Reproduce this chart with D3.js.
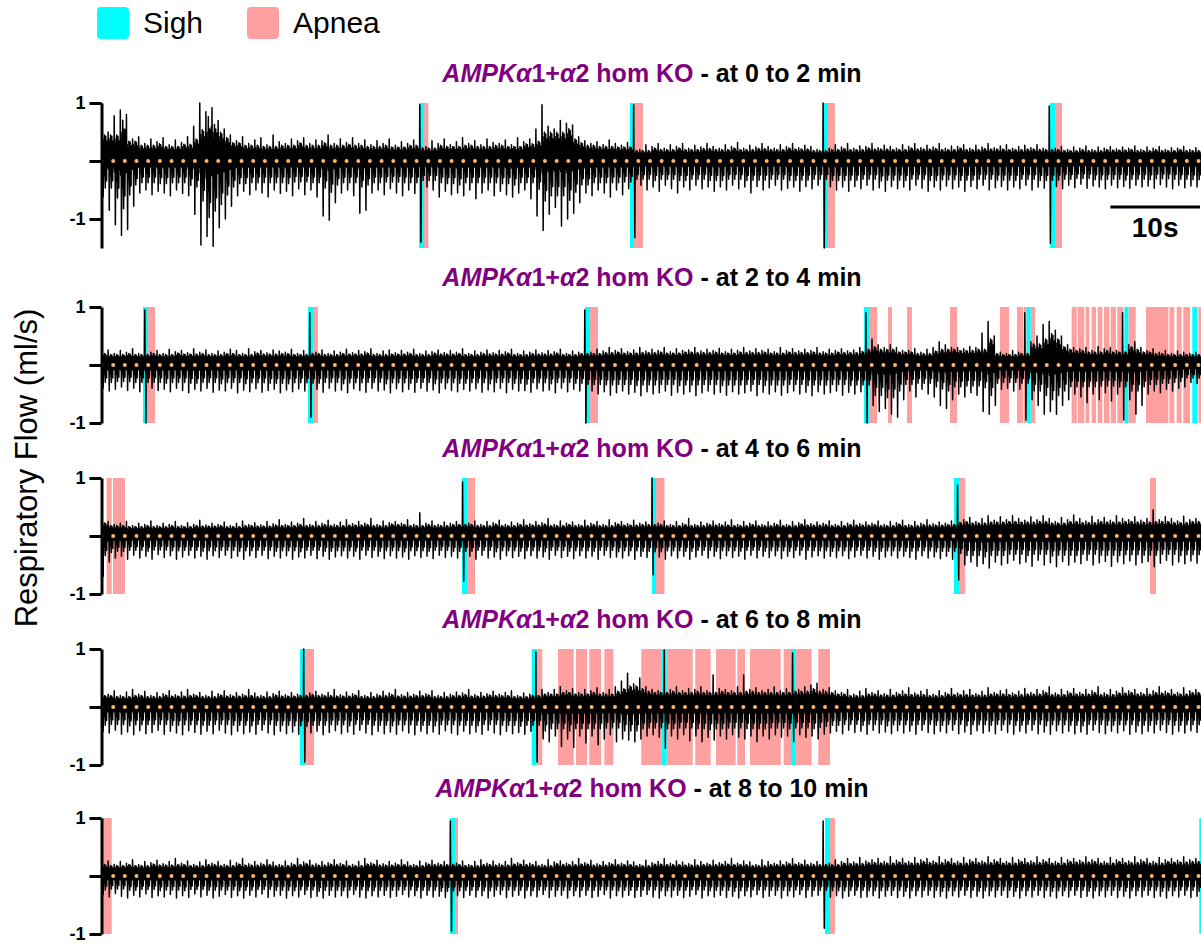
<!DOCTYPE html>
<html><head><meta charset="utf-8">
<script src="https://cdn.jsdelivr.net/npm/d3@7"></script>
<style>
html,body{margin:0;padding:0;background:#fff;}
svg{display:block;font-family:"Liberation Sans",Arial,Helvetica,sans-serif;}
</style></head>
<body><svg id="chart" width="1201" height="943"></svg>
<script>
// ---------- DATA ----------
const genotypeItalic = "AMPK";
const windows = ["at 0 to 2 min","at 2 to 4 min","at 4 to 6 min","at 6 to 8 min","at 8 to 10 min"];
const yLabel = "Respiratory Flow (ml/s)";
const legendLabels = ["Sigh","Apnea"];
const yTickValues = [1,0,-1];
const yTickLabels = ["1","","-1"];
const yDomains = [[-1.5,1],[-1,1],[-1,1],[-1,1],[-1,1]];
const windowSeconds = 120;
const breathInterval = 2/3;   // s between successive breaths
const scaleBarSeconds = 10;

// sigh / apnea events, [start, end] in seconds within each 2-min window
const sighs1 = [[34.58,35.13],[57.60,58.04],[78.65,79.20],[103.42,103.96]];
const apneas1 = [[35.13,35.60],[58.04,59.02],[79.20,79.96],[103.96,104.73]];
const sighs2 = [[4.47,5.02],[22.47,23.02],[52.69,53.24],[83.13,83.67],[100.87,101.31],[111.53,111.96],[118.94,119.49]];
const apneas2 = [[5.02,5.78],[23.02,23.56],[53.24,54.11],[83.67,84.55],[85.75,86.18],[87.82,88.36],[92.51,93.27],
  [97.96,98.95],[99.82,100.47],[100.55,100.87],[101.31,101.78],[105.78,106.33],[106.44,107.16],[107.31,107.71],
  [107.96,108.44],[108.62,109.13],[109.31,109.89],[110.04,110.62],[110.76,111.42],[111.96,112.77],[113.89,116.33],
  [116.44,116.98],[117.24,117.78],[117.96,118.69],[119.60,119.95]];
const sighs3 = [[39.27,39.82],[60.00,60.44],[92.95,93.49]];
const apneas3 = [[0.51,1.06],[1.20,2.51],[39.82,40.69],[60.44,61.36],[93.49,94.15],[114.33,114.98]];
const sighs4 = [[21.60,22.15],[46.87,47.42],[61.01,61.60],[75.16,75.60]];
const apneas4 = [[22.15,23.13],[47.42,48.03],[49.75,51.46],[51.71,52.91],[53.16,54.44],[54.80,55.78],[58.83,61.01],
  [61.60,64.44],[64.72,66.40],[66.98,69.12],[69.30,70.15],[70.69,74.04],[74.36,75.16],[75.60,77.42],[78.14,79.42]];
const sighs5 = [[0.00,0.07],[37.96,38.51],[78.87,79.42],[119.70,120]];
const apneas5 = [[0.07,1.06],[38.51,38.84],[79.42,79.96]];

// respiratory flow (ml/s) per breath: inspiratory peak, expiratory trough, peak, trough, ...
const flow1 = [
1.0,-.62,.5,-.85,.78,-1.1,.88,-1.28,.8,-1.18,.38,-.78,.42,-.55,.3,-.5,.38,-.58,.33,-.52,
.4,-.55,.28,-.6,.36,-.5,.32,-.56,.42,-.6,.6,-.92,1.0,-1.45,.85,-1.3,.92,-1.47,.7,-1.15,
.55,-1.0,.45,-.78,.35,-.6,.42,-.52,.3,-.58,.36,-.5,.4,-.55,.28,-.62,.45,-.5,.33,-.56,
.3,-.52,.38,-.6,.35,-.48,.4,-.58,.3,-.5,.36,-.62,.35,-.95,.45,-1.02,.3,-.72,.38,-.55,
.32,-.5,.4,-.6,.3,-.9,.36,-.85,.28,-.55,.35,-.5,.3,-.58,.38,-.48,.27,-.55,.33,-.6,
.3,-.5,.36,-.56,.97,-1.4,.25,-.45,.35,-.5,.3,-.62,.38,-.52,.28,-.58,.33,-.55,.4,-.6,
.3,-.5,.35,-.65,.28,-.55,.38,-.5,.32,-.6,.3,-.52,.36,-.58,.28,-.62,.4,-.55,.33,-.5,
.38,-.65,.55,-.95,.97,-1.2,.6,-.92,.55,-.8,.7,-1.12,.65,-1.0,.62,-.9,.42,-.72,.35,-.55,
.3,-.6,.33,-.5,.28,-.55,.36,-.62,.3,-.5,.27,-.58,.32,-.48,.97,-1.32,.2,-.42,.28,-.5,
.25,-.45,.3,-.52,.22,-.42,.28,-.48,.25,-.55,.3,-.45,.22,-.5,.27,-.42,.24,-.48,.3,-.45,
.25,-.52,.22,-.45,.28,-.5,.25,-.42,.32,-.48,.22,-.45,.27,-.55,.24,-.44,.3,-.5,.25,-.46,
.22,-.42,.28,-.5,.25,-.47,.3,-.45,.23,-.52,.27,-.44,.25,-.48,.2,-.42,1.0,-1.5,.22,-.45,
.28,-.5,.24,-.45,.3,-.52,.22,-.44,.26,-.48,.25,-.42,.3,-.5,.23,-.46,.27,-.52,.25,-.44,
.22,-.48,.28,-.45,.25,-.5,.3,-.42,.23,-.47,.27,-.52,.24,-.45,.3,-.5,.22,-.43,.26,-.48,
.25,-.45,.28,-.52,.22,-.44,.27,-.48,.24,-.42,.3,-.5,.23,-.46,.26,-.44,.28,-.5,.22,-.45,
.25,-.48,.27,-.42,.23,-.5,.28,-.45,.22,-.47,.95,-1.42,.22,-.44,.25,-.48,.2,-.42,.24,-.46,
.22,-.4,.26,-.47,.2,-.43,.24,-.45,.22,-.48,.25,-.42,.21,-.46,.24,-.44,.22,-.47,.26,-.42,
.2,-.45,.24,-.43,.22,-.47,.25,-.41,.2,-.45,.23,-.48,.22,-.42,.25,-.46,.2,-.43,.23,-.45];
const flow2 = [
.22,-.4,.26,-.45,.2,-.42,.25,-.38,.22,-.44,.28,-.4,.2,-.46,.95,-1.0,.22,-.4,.25,-.44,
.2,-.42,.27,-.46,.23,-.4,.25,-.44,.21,-.48,.28,-.42,.22,-.45,.26,-.4,.2,-.47,.24,-.43,
.22,-.45,.27,-.4,.25,-.48,.2,-.43,.28,-.46,.23,-.41,.25,-.47,.21,-.44,.26,-.42,.24,-.48,
.22,-.43,.27,-.46,.2,-.41,.25,-.45,.9,-.9,.22,-.42,.26,-.47,.2,-.4,.24,-.45,.22,-.43,
.27,-.48,.21,-.41,.25,-.44,.23,-.47,.28,-.4,.2,-.45,.24,-.43,.26,-.48,.21,-.41,.25,-.46,
.22,-.42,.27,-.47,.2,-.4,.24,-.45,.23,-.43,.26,-.48,.21,-.41,.25,-.44,.22,-.46,.28,-.42,
.2,-.45,.24,-.41,.22,-.47,.26,-.43,.21,-.46,.25,-.4,.23,-.48,.27,-.42,.2,-.45,.24,-.44,
.22,-.47,.26,-.41,.21,-.45,.25,-.43,.23,-.48,.27,-.4,.2,-.46,.24,-.42,.22,-.45,.95,-1.0,
.22,-.45,.27,-.5,.24,-.46,.3,-.52,.25,-.48,.28,-.45,.23,-.5,.26,-.47,.3,-.53,.24,-.46,
.27,-.5,.25,-.48,.3,-.45,.23,-.52,.28,-.47,.25,-.5,.26,-.46,.3,-.53,.24,-.48,.27,-.45,
.25,-.5,.29,-.47,.23,-.52,.27,-.46,.25,-.5,.3,-.48,.24,-.45,.28,-.53,.25,-.47,.27,-.5,
.23,-.46,.3,-.52,.25,-.48,.28,-.45,.24,-.5,.27,-.47,.25,-.53,.3,-.46,.23,-.5,.27,-.48,
.25,-.45,.28,-.52,.24,-.47,.26,-.5,.3,-.46,.9,-1.0,.45,-.7,.35,-.8,.3,-.75,.35,-.85,
.3,-.9,.25,-.6,.25,-.45,.28,-.55,.22,-.42,.27,-.5,.3,-.55,.4,-.7,.35,-.75,.3,-.6,
.3,-.5,.28,-.55,.32,-.48,.3,-.52,.55,-.8,.75,-.85,.5,-.7,.22,-.42,.2,-.4,.25,-.45,
.22,-.42,.9,-.95,.4,-.6,.5,-.7,.7,-.85,.75,-.8,.6,-.85,.5,-.7,.35,-.6,.3,-.5,
.28,-.55,.3,-.65,.25,-.5,.32,-.6,.28,-.48,.3,-.62,.25,-.5,.9,-.95,.35,-.6,.4,-.85,
.3,-.7,.25,-.5,.28,-.45,.22,-.48,.25,-.42,.2,-.45,.24,-.4,.22,-.38,.2,-.3,.22,-.32];
const flow3 = [
.3,-.7,.25,-.45,.2,-.38,.22,-.35,.25,-.4,.18,-.33,.22,-.38,.2,-.35,.26,-.4,.18,-.32,
.22,-.37,.2,-.34,.25,-.4,.18,-.36,.23,-.33,.2,-.38,.27,-.35,.19,-.4,.22,-.34,.2,-.37,
.24,-.33,.18,-.38,.22,-.35,.26,-.4,.2,-.34,.23,-.37,.19,-.33,.25,-.39,.21,-.35,.28,-.38,
.2,-.34,.24,-.4,.22,-.36,.3,-.38,.2,-.33,.25,-.39,.22,-.35,.27,-.4,.2,-.36,.24,-.34,
.28,-.38,.21,-.35,.25,-.4,.22,-.33,.3,-.37,.2,-.35,.26,-.39,.23,-.34,.25,-.38,.22,-.36,
.28,-.4,.2,-.34,.4,-.37,.22,-.35,.26,-.39,.2,-.33,.24,-.37,.22,-.35,.25,-.38,.93,-.78,
.22,-.35,.26,-.4,.2,-.33,.25,-.38,.23,-.36,.27,-.4,.2,-.34,.24,-.37,.22,-.35,.28,-.39,
.21,-.34,.25,-.38,.23,-.36,.3,-.4,.2,-.33,.26,-.37,.22,-.35,.24,-.39,.2,-.34,.27,-.38,
.22,-.35,.25,-.4,.2,-.33,.28,-.37,.23,-.36,.25,-.38,.21,-.34,.27,-.4,.22,-.35,.24,-.37,
1.0,-.67,.22,-.36,.26,-.4,.2,-.34,.25,-.38,.22,-.35,.3,-.4,.2,-.36,.24,-.33,.22,-.38,
.26,-.35,.21,-.39,.24,-.34,.28,-.37,.2,-.35,.25,-.4,.22,-.33,.26,-.38,.2,-.35,.24,-.37,
.22,-.34,.27,-.39,.2,-.35,.25,-.37,.23,-.33,.28,-.4,.21,-.36,.24,-.34,.22,-.38,.26,-.35,
.2,-.37,.25,-.34,.22,-.39,.27,-.36,.21,-.33,.24,-.38,.22,-.35,.26,-.4,.2,-.36,.25,-.34,
.23,-.38,.27,-.35,.2,-.37,.25,-.4,.22,-.34,.28,-.38,.21,-.36,.24,-.39,.22,-.35,.26,-.4,
.88,-.76,.28,-.5,.32,-.45,.25,-.52,.3,-.48,.35,-.55,.27,-.45,.33,-.5,.28,-.47,.35,-.42,
.3,-.48,.27,-.45,.33,-.52,.28,-.42,.35,-.5,.3,-.46,.25,-.53,.32,-.44,.28,-.5,.36,-.45,
.3,-.48,.26,-.42,.34,-.5,.28,-.46,.32,-.44,.27,-.52,.35,-.45,.3,-.48,.28,-.43,.33,-.5,
.27,-.46,.3,-.44,.45,-.53,.28,-.47,.33,-.42,.3,-.5,.26,-.45,.34,-.48,.28,-.43,.3,-.47];
const flow4 = [
.25,-.42,.22,-.45,.28,-.4,.2,-.47,.26,-.43,.3,-.48,.22,-.41,.27,-.46,.2,-.44,.25,-.4,
.23,-.47,.28,-.42,.21,-.45,.26,-.48,.3,-.41,.22,-.44,.25,-.47,.2,-.42,.27,-.46,.23,-.4,
.28,-.45,.21,-.48,.25,-.42,.22,-.46,.3,-.43,.24,-.47,.2,-.4,.26,-.45,.23,-.48,.27,-.42,
.21,-.46,.25,-.43,.22,-.47,1.0,-.95,.24,-.45,.27,-.42,.22,-.48,.25,-.44,.3,-.41,.21,-.46,
.26,-.43,.23,-.47,.28,-.4,.2,-.45,.25,-.48,.22,-.42,.27,-.46,.24,-.43,.3,-.47,.21,-.41,
.25,-.45,.22,-.48,.27,-.42,.23,-.46,.28,-.43,.2,-.47,.25,-.41,.22,-.45,.26,-.48,.24,-.42,
.3,-.46,.21,-.43,.25,-.47,.23,-.4,.27,-.45,.22,-.48,.25,-.42,.28,-.46,.2,-.44,.24,-.47,
.22,-.42,.95,-.95,.3,-.55,.25,-.6,.3,-.5,.35,-.68,.28,-.55,.32,-.7,.25,-.5,.3,-.62,
.28,-.5,.33,-.65,.25,-.55,.3,-.48,.35,-.6,.45,-.55,.58,-.57,.4,-.6,.5,-.55,.35,-.5,
.3,-.48,.28,-.52,.98,-.71,.3,-.5,.35,-.55,.28,-.48,.32,-.58,.3,-.5,.35,-.6,.28,-.52,
.55,-.57,.32,-.5,.3,-.55,.28,-.48,.35,-.52,.55,-.55,.3,-.5,.33,-.6,.28,-.5,.3,-.55,
.35,-.48,.28,-.52,.32,-.5,.93,-.6,.3,-.48,.35,-.52,.38,-.5,.41,-.55,.3,-.47,.33,-.45,
.28,-.42,.25,-.46,.3,-.4,.22,-.44,.27,-.42,.32,-.47,.25,-.4,.28,-.45,.23,-.43,.3,-.46,
.25,-.41,.28,-.45,.33,-.42,.24,-.47,.27,-.4,.3,-.44,.22,-.46,.28,-.42,.25,-.45,.32,-.4,
.24,-.46,.28,-.43,.3,-.47,.23,-.41,.27,-.45,.33,-.42,.25,-.46,.28,-.4,.3,-.44,.24,-.47,
.27,-.42,.32,-.45,.25,-.4,.3,-.46,.28,-.43,.35,-.47,.24,-.41,.3,-.45,.27,-.42,.32,-.46,
.25,-.43,.3,-.47,.28,-.4,.35,-.44,.24,-.46,.3,-.42,.27,-.45,.33,-.41,.28,-.47,.3,-.43,
.25,-.46,.32,-.42,.28,-.45,.35,-.4,.27,-.44,.3,-.47,.25,-.42,.33,-.45,.28,-.41,.3,-.44];
const flow5 = [
.22,-.32,.26,-.36,.2,-.3,.25,-.35,.22,-.38,.28,-.33,.2,-.36,.25,-.31,.23,-.37,.27,-.34,
.21,-.36,.25,-.32,.3,-.38,.22,-.34,.26,-.37,.2,-.31,.24,-.36,.28,-.33,.22,-.38,.25,-.35,
.2,-.32,.27,-.37,.23,-.34,.3,-.38,.21,-.33,.25,-.36,.22,-.31,.28,-.37,.24,-.35,.2,-.33,
.26,-.38,.22,-.34,.3,-.36,.24,-.32,.27,-.37,.21,-.35,.25,-.38,.23,-.33,.28,-.36,.22,-.34,
.26,-.37,.2,-.32,.25,-.36,.3,-.38,.23,-.34,.27,-.36,.21,-.33,.25,-.37,.22,-.35,.28,-.32,
.24,-.36,.2,-.34,.26,-.38,.23,-.33,.27,-.36,.22,-.35,.25,-.37,.95,-.95,.22,-.34,.26,-.37,
.2,-.33,.25,-.36,.28,-.34,.22,-.38,.26,-.35,.21,-.32,.25,-.37,.3,-.35,.23,-.33,.27,-.38,
.22,-.34,.25,-.36,.2,-.32,.28,-.37,.24,-.35,.26,-.33,.22,-.38,.25,-.34,.3,-.36,.23,-.33,
.27,-.37,.21,-.35,.25,-.32,.23,-.38,.28,-.34,.22,-.36,.26,-.33,.24,-.37,.2,-.35,.27,-.32,
.23,-.36,.25,-.38,.3,-.34,.22,-.36,.26,-.33,.24,-.37,.21,-.35,.28,-.32,.25,-.38,.22,-.34,
.27,-.36,.23,-.33,.25,-.37,.3,-.35,.22,-.38,.26,-.34,.24,-.36,.2,-.32,.28,-.37,.25,-.35,
.22,-.33,.26,-.38,.24,-.34,.3,-.36,.23,-.32,.27,-.37,.22,-.35,.25,-.33,.95,-.9,.22,-.36,
.28,-.34,.25,-.38,.3,-.35,.24,-.33,.32,-.37,.26,-.36,.28,-.34,.3,-.38,.25,-.35,.33,-.33,
.27,-.37,.3,-.35,.25,-.38,.32,-.34,.28,-.36,.3,-.33,.26,-.37,.33,-.35,.28,-.38,.3,-.34,
.25,-.36,.32,-.33,.28,-.37,.3,-.35,.26,-.38,.33,-.34,.28,-.36,.3,-.33,.25,-.37,.32,-.35,
.28,-.38,.3,-.34,.26,-.36,.33,-.33,.28,-.37,.3,-.35,.25,-.38,.32,-.34,.28,-.36,.3,-.33,
.27,-.37,.33,-.35,.28,-.38,.3,-.34,.25,-.36,.32,-.33,.28,-.37,.3,-.35,.26,-.38,.33,-.34,
.28,-.36,.3,-.33,.25,-.37,.32,-.35,.28,-.38,.3,-.34,.27,-.36,.33,-.33,.28,-.37,.3,-.35];

const flows = [flow1,flow2,flow3,flow4,flow5];
const sighSets = [sighs1,sighs2,sighs3,sighs4,sighs5];
const apneaSets = [apneas1,apneas2,apneas3,apneas4,apneas5];

// ---------- STYLE / LAYOUT ----------
const C = {sigh:"#00FFFF", apnea:"#FFA0A0", trace:"#000000", zero:"#FDB46C", title:"#800080"};
const panelTops = [103,307,478,649,818];
const pxPerUnit = 58;
const axisX = 101.5;
// drawing template of one breath cycle: [phase within the breath, level source, factor]
// 'P' / 'Q' = this breath's peak / trough; 'p' / 'q' = smaller secondary spikes (scaled by the
// calmer neighbouring breath); 'u' / 'd' = the dense baseline ripple around zero
const breathGlyph = [[0,'P',1],[0.06,'d',0.5],[0.12,'u',0.9],[0.19,'Q',1],[0.26,'u',0.7],
                     [0.33,'d',0.9],[0.40,'p',0.9],[0.47,'d',0.6],[0.54,'q',0.75],[0.61,'u',1.0],
                     [0.68,'d',0.8],[0.75,'q',0.55],[0.82,'u',0.8],[0.89,'p',0.7],[0.95,'d',0.4]];

const svg = d3.select("#chart");
const x = d3.scaleLinear().domain([0, windowSeconds]).range([102, 1202]);

function tracePoints(flow) {
  const n = flow.length / 2, pts = [];
  const P = k => flow[2 * Math.max(0, Math.min(n - 1, k))];
  const Q = k => flow[2 * Math.max(0, Math.min(n - 1, k)) + 1];
  for (let k = 0; k < n; k++) {
    const pn = Math.min(P(k - 1), P(k), P(k + 1));
    const qn = Math.max(Q(k - 1), Q(k), Q(k + 1));
    const u = Math.min(0.85 * pn, 0.55), d = 0.45 * qn;
    breathGlyph.forEach(([ph, s, f]) => {
      const v = s === 'P' ? P(k) : s === 'Q' ? Q(k) : s === 'p' ? f * pn
              : s === 'q' ? f * qn : s === 'u' ? f * u : f * d;
      pts.push([(k + ph) * breathInterval, v]);
    });
  }
  return pts;
}

flows.forEach((flow, p) => {
  const dom = yDomains[p];
  const top = panelTops[p];
  const bottom = top + (dom[1]-dom[0])*pxPerUnit;
  const y = d3.scaleLinear().domain(dom).range([bottom, top]);
  const g = svg.append("g");

  // events
  g.selectAll(".apnea").data(apneaSets[p]).join("rect")
    .attr("x", d => x(d[0])).attr("width", d => Math.max(1, x(d[1]) - x(d[0])))
    .attr("y", y(dom[1])).attr("height", y(dom[0]) - y(dom[1]))
    .attr("fill", C.apnea);
  g.selectAll(".sigh").data(sighSets[p]).join("rect")
    .attr("x", d => x(d[0])).attr("width", d => Math.max(1, x(d[1]) - x(d[0])))
    .attr("y", y(dom[1])).attr("height", y(dom[0]) - y(dom[1]))
    .attr("fill", C.sigh);

  // trace
  const line = d3.line().x(d => x(d[0])).y(d => y(d[1]));
  g.append("path").datum(tracePoints(flow)).attr("d", line)
    .attr("fill", "none").attr("stroke", C.trace).attr("stroke-width", 1.5)
    .attr("stroke-linejoin", "round");

  // dotted zero line
  g.append("line").attr("x1", axisX).attr("x2", 1201)
    .attr("y1", y(0)).attr("y2", y(0))
    .attr("stroke", C.zero).attr("stroke-width", 4)
    .attr("stroke-linecap", "round").attr("stroke-dasharray", "0 11.67");

  // y axis
  const ax = g.append("g").attr("transform", `translate(${axisX},0)`)
    .call(d3.axisLeft(y).tickValues(yTickValues).tickSize(12).tickSizeOuter(0).tickPadding(4)
      .tickFormat((d, i) => yTickLabels[i]));
  ax.select(".domain").attr("stroke", "#000").attr("stroke-width", 3);
  ax.selectAll(".tick line").attr("stroke", "#000").attr("stroke-width", 3);
  ax.selectAll(".tick text").attr("font-size", 18).attr("font-weight", "bold")
    .attr("font-family", "Liberation Sans, Arial, sans-serif").attr("fill", "#000");

  // title
  const t = svg.append("text").attr("x", 652).attr("y", top - 21)
    .attr("text-anchor", "middle").attr("font-size", 25).attr("font-weight", "bold");
  t.append("tspan").attr("fill", C.title).attr("font-style", "italic").text(genotypeItalic + "α");
  t.append("tspan").attr("fill", C.title).text("1+");
  t.append("tspan").attr("fill", C.title).attr("font-style", "italic").text("α");
  t.append("tspan").attr("fill", C.title).text("2 hom KO");
  t.append("tspan").attr("fill", "#000").text(" - " + windows[p]);

  // scale bar in first panel
  if (p === 0) {
    const x0 = x(windowSeconds - scaleBarSeconds), x1 = x(windowSeconds);
    svg.append("line").attr("x1", x0).attr("x2", x1 - 2).attr("y1", 207).attr("y2", 207)
      .attr("stroke", "#000").attr("stroke-width", 3);
    svg.append("text").attr("x", (x0 + x1 - 2) / 2).attr("y", 237).attr("text-anchor", "middle")
      .attr("font-size", 28).attr("font-weight", "bold").text(scaleBarSeconds + "s");
  }
});

// y label
svg.append("text").attr("transform", "translate(37,468) rotate(-90)")
  .attr("text-anchor", "middle").attr("font-size", 31).text(yLabel);

// legend
const legColors = [C.sigh, C.apnea];
const legX = [97, 247];
legendLabels.forEach((lab, i) => {
  svg.append("rect").attr("x", legX[i]).attr("y", 7).attr("width", 32).attr("height", 32)
    .attr("rx", 4).attr("fill", legColors[i]);
  svg.append("text").attr("x", legX[i] + 46).attr("y", 33).attr("font-size", 30).text(lab);
});
</script></body></html>
